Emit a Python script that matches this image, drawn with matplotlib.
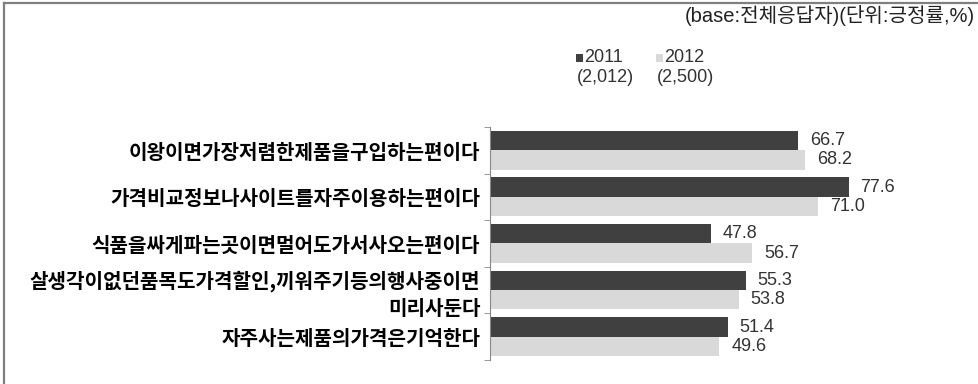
import matplotlib.pyplot as plt
import numpy as np
from matplotlib.lines import Line2D
from matplotlib.patches import Rectangle

# --- 데이터 ---
categories = [
    "이왕이면가장저렴한제품을구입하는편이다",
    "가격비교정보나사이트를자주이용하는편이다",
    "식품을싸게파는곳이면멀어도가서사오는편이다",
    "살생각이없던품목도가격할인,끼워주기등의행사중이면\n미리사둔다",
    "자주사는제품의가격은기억한다",
]
series_names = ["2011", "2012"]
series_n = ["(2,012)", "(2,500)"]
values_2011 = [66.7, 77.6, 47.8, 55.3, 51.4]
values_2012 = [68.2, 71.0, 56.7, 53.8, 49.6]

colors = ["#404040", "#d9d9d9"]
kr_font = "Noto Sans CJK KR"
num_font = ["Liberation Sans", "Noto Sans CJK KR"]

fig = plt.figure(figsize=(9.79, 3.84), dpi=100)
ax = fig.add_axes([0.5005, 0.0625, 0.472, 0.607])

y = np.arange(len(categories))
h = 0.415
for vals, off, col in zip([values_2011, values_2012], [-h / 2, h / 2], colors):
    ax.barh(y + off, vals, height=h, color=col, edgecolor="none")
    for yi, v in zip(y, vals):
        ax.text(v + 2.6, yi + off, f"{v:.1f}", va="center", ha="left",
                fontsize=13, family=num_font, color="#333333")

ax.set_xlim(0, 100)
ax.set_ylim(len(categories) - 0.5, -0.5)

# 축: 왼쪽 선과 항목 경계 눈금만
for s in ["top", "right", "bottom"]:
    ax.spines[s].set_visible(False)
ax.spines["left"].set_color("#888888")
ax.set_xticks([])
ax.set_yticks(y)
ax.set_yticklabels(categories, fontsize=14.5, fontweight="bold", family=kr_font,
                   linespacing=1.3)
ax.tick_params(axis="y", which="major", length=0, pad=7)
ax.set_yticks(np.arange(len(categories) + 1) - 0.5, minor=True)
ax.tick_params(axis="y", which="minor", length=4, color="#888888", direction="out")

# 범례 (수동 배치)
legend_x = [576, 656]
for name, n, col, lx in zip(series_names, series_n, colors, legend_x):
    fig.patches.append(Rectangle((lx / 979, 1 - 62 / 384), 7 / 979, 8 / 384,
                                 transform=fig.transFigure, facecolor=col,
                                 edgecolor="none"))
    fig.text((lx + 8) / 979, 1 - 58 / 384, name, fontsize=13, family=num_font,
             va="center", ha="left", color="#333333")
    fig.text((lx + 1) / 979, 1 - 77 / 384, n, fontsize=13, family=num_font,
             va="center", ha="left", color="#333333")

fig.text(0.996, 1 - 16 / 384, "(base:전체응답자)(단위:긍정률,%)", fontsize=14.5,
         family=num_font, ha="right", va="center", color="#222222")

# 바깥 테두리
bx, by = 4 / 979, 1 - 3 / 384
fig.add_artist(Line2D([bx, bx], [0, by], transform=fig.transFigure,
                      color="#7f7f7f", lw=1.6))
fig.add_artist(Line2D([bx, 1], [by, by], transform=fig.transFigure,
                      color="#7f7f7f", lw=1.6))

fig.savefig("out.png", dpi=100)
